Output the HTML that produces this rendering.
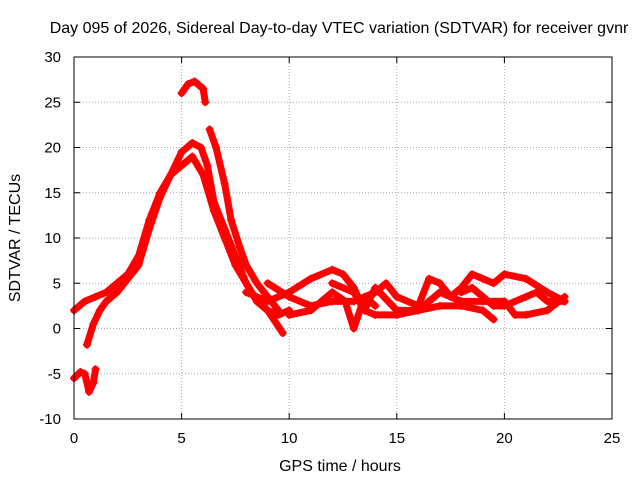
<!DOCTYPE html>
<html><head><meta charset="utf-8"><style>
body{margin:0;background:#fff}
svg{display:block;font-family:"Liberation Sans",sans-serif}
</style></head><body>
<svg id="chart" width="640" height="480" viewBox="0 0 640 480">
<text x="339" y="33" font-size="16" text-anchor="middle">Day 095 of 2026, Sidereal Day-to-day VTEC variation (SDTVAR) for receiver gvnr</text>
<g id="grid"></g>
<g id="axes"></g>
<g id="series"></g>
<rect x="74" y="57" width="538" height="362" fill="none" stroke="#000" stroke-width="1"/>
<text x="340" y="471" font-size="16" text-anchor="middle">GPS time / hours</text>
<text transform="translate(20,238) rotate(-90)" font-size="16" text-anchor="middle">SDTVAR / TECUs</text>
</svg>
<script>
const xTicks=[0,5,10,15,20,25];
const yTicks=[-10,-5,0,5,10,15,20,25,30];
const trackA=[[0,2],[0.5,3],[1,3.5],[1.5,4],[2,5],[2.5,6],[3,8],[3.5,12],[4,15],[4.5,17],[5,18],[5.5,19],[6,17],[6.5,13],[7,10],[7.5,7],[8,5],[8.5,3],[9,2],[9.5,1.5],[10,2]];
const trackB=[[0.6,-1.8],[0.9,0.5],[1.2,2],[1.5,3],[2,4],[2.5,5.5],[3,7],[3.5,11],[4,14.5],[4.5,17],[5,19.5],[5.5,20.5],[5.9,20],[6.2,18],[6.5,14],[7,11],[7.5,8],[8,5],[8.5,3],[9,2],[9.7,-0.5]];
const trackC=[[6.3,22],[6.6,20],[7,16],[7.3,12],[7.7,9],[8,7],[8.5,5],[9,3.5],[9.5,2]];
const trackD=[[5,26],[5.3,27],[5.6,27.3],[6,26.5],[6.1,25]];
const trackE=[[0,-5.5],[0.3,-4.8],[0.5,-5],[0.7,-7],[0.9,-6],[1,-4.5]];
const trackF=[[8,4],[9,3],[10,4],[11,5.5],[12,6.5],[12.5,6],[13,4.5],[13.5,2],[14,1.5],[15,1.5],[16,2],[17,2.5],[18,2.5],[19,2],[19.5,1]];
const trackG=[[9,5],[10,3.5],[11,2.5],[12,3],[13,3],[14,4],[14.5,5],[15,3.5],[16,2.5],[16.5,5.5],[17,5],[17.5,3.5],[18,4.5],[18.5,6],[19,5.5],[19.5,5],[20,6],[21,5.5],[22,4],[22.8,3]];
const trackH=[[12,5],[13,4],[13.5,2],[14,4.5],[15,2],[16,2],[17,4],[18,3],[19,3],[20,3],[20.5,1.5],[21,1.5],[22,2],[22.8,3.5]];
const trackI=[[18,4],[18.5,4.5],[19,3.5],[19.5,2.5],[20,2.5],[21,3.5],[21.5,4],[22,3],[22.8,3]];
const trackJ=[[10,1.5],[11,2],[12,4],[12.6,3],[13,0],[13.5,3.5],[14,2.5]];
const tracks=[trackA,trackB,trackC,trackD,trackE,trackF,trackG,trackH,trackI,trackJ];
const NS="http://www.w3.org/2000/svg";
const X0=74,X1=612,Y0=419,Y1=57;
const xs=v=>X0+(v-0)/25*(X1-X0);
const ys=v=>Y0-(v+10)/40*(Y0-Y1);
const grid=document.getElementById('grid'),axes=document.getElementById('axes'),ser=document.getElementById('series');
function mk(t,a,p){const e=document.createElementNS(NS,t);for(const k in a)e.setAttribute(k,a[k]);p.appendChild(e);return e;}
xTicks.forEach(t=>{const x=xs(t);
 if(t>0&&t<25){const g=mk('line',{x1:x,x2:x,y1:Y1,y2:Y0,stroke:'#aaa','stroke-dasharray':'1,2'},grid);
 
 }
 mk('line',{x1:x,x2:x,y1:Y0,y2:Y0-6,stroke:'#000'},axes);
 mk('line',{x1:x,x2:x,y1:Y1,y2:Y1+6,stroke:'#000'},axes);
 const l=mk('text',{x:x,y:Y0+24,'font-size':15,'text-anchor':'middle'},axes);l.textContent=t;
 
 });
yTicks.forEach(t=>{const y=ys(t);
 if(t>-10&&t<30){const g=mk('line',{x1:X0,x2:X1,y1:y,y2:y,stroke:'#aaa','stroke-dasharray':'1,2'},grid);
 
 }
 mk('line',{x1:X0,x2:X0+6,y1:y,y2:y,stroke:'#000'},axes);
 mk('line',{x1:X1,x2:X1-6,y1:y,y2:y,stroke:'#000'},axes);
 const l=mk('text',{x:X0-13,y:y+5,'font-size':15,'text-anchor':'end'},axes);l.textContent=t;
 
 });
tracks.forEach((tr,i)=>{
 const pl=mk('polyline',{points:tr.map(p=>xs(p[0])+','+ys(p[1])).join(' '),fill:'none',stroke:'#f00','stroke-width':7,'stroke-linejoin':'round','stroke-linecap':'round'},ser);
 
 
 tr.forEach(p=>{const x=xs(p[0]),y=ys(p[1]);
  const m=mk('path',{d:`M${x-4},${y}H${x+4}M${x},${y-4}V${y+4}`,stroke:'#f00','stroke-width':1.5},ser);
  
  });
});
</script>
</body></html>
